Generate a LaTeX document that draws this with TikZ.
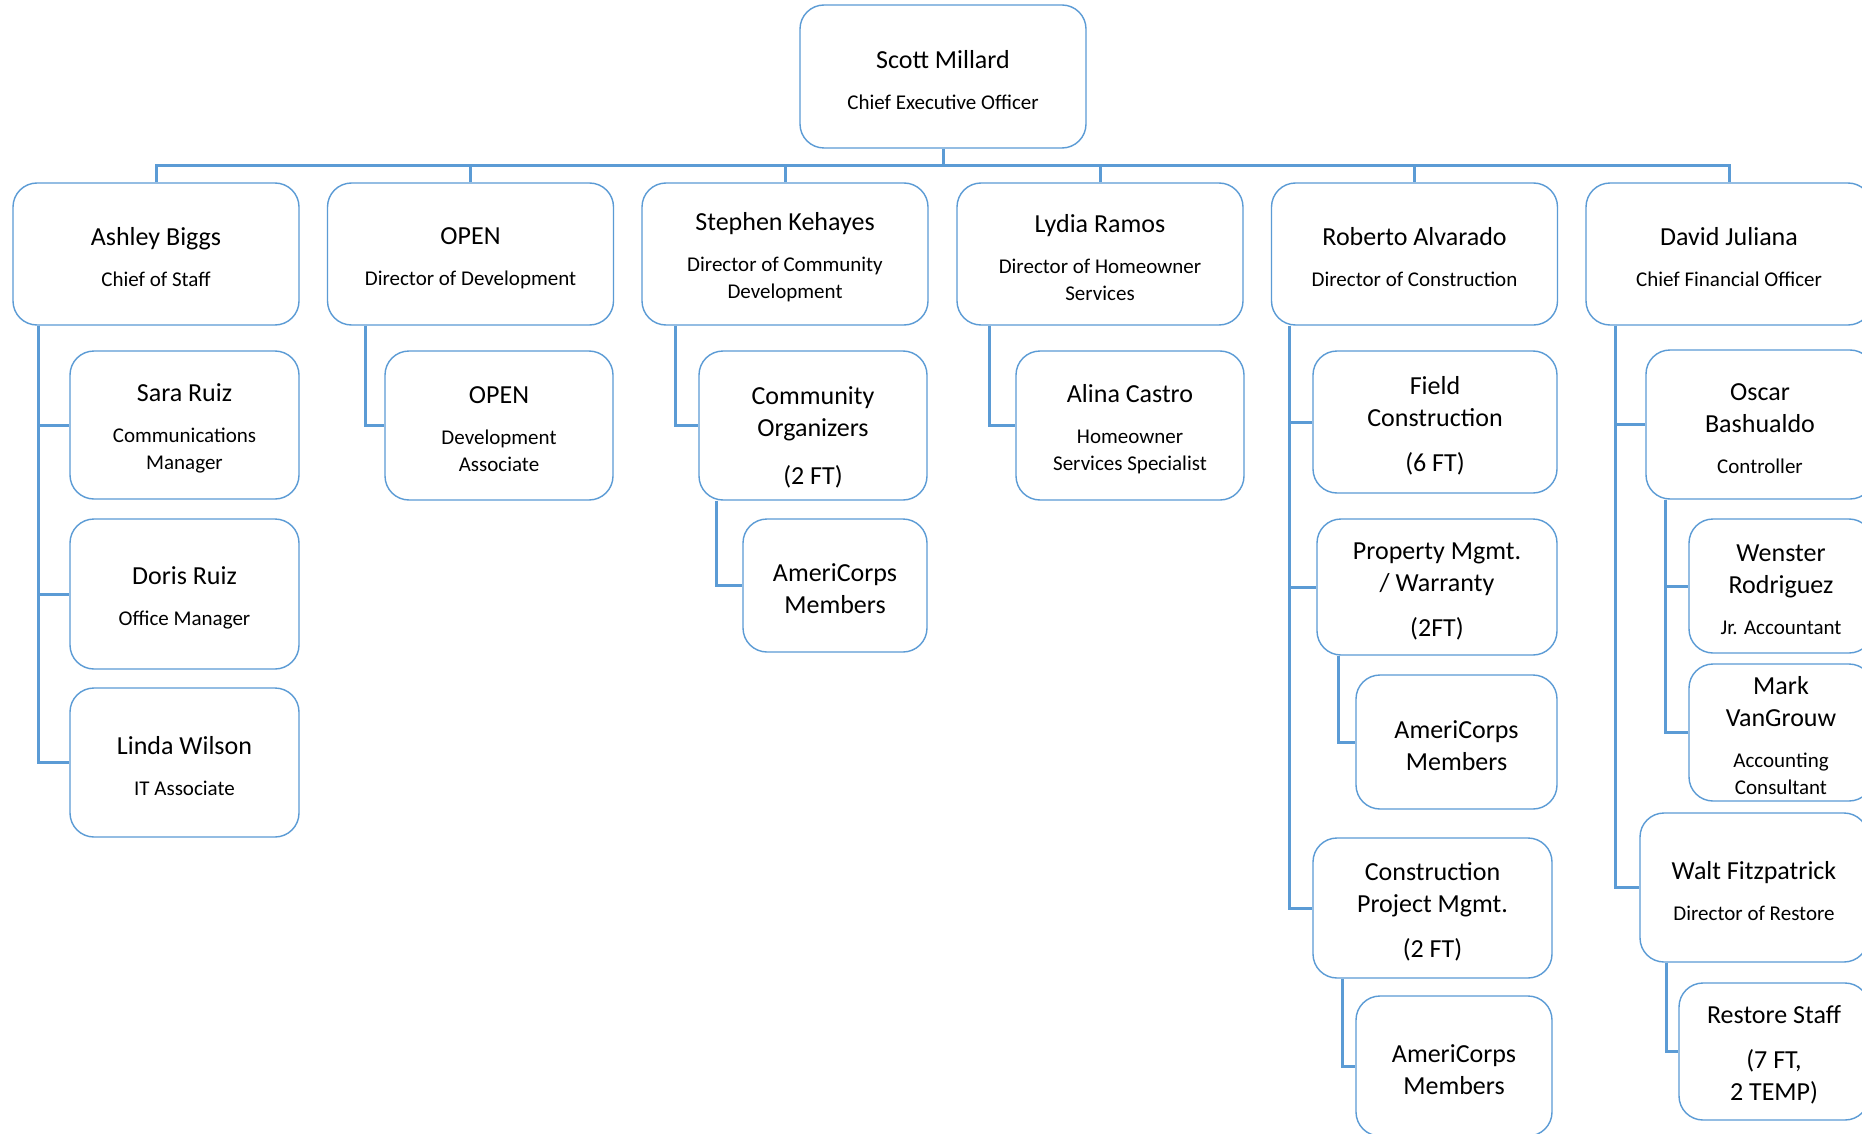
\documentclass[tikz,border=0pt]{standalone}
\usepackage{fontspec}
\setmainfont{Carlito}
\usepackage{tikz}
\usetikzlibrary{arrows.meta}
\definecolor{orgblue}{RGB}{91,155,213}
\newcommand{\nm}{\fontsize{26}{32}\selectfont}
\newcommand{\sbt}{\fontsize{21}{27}\selectfont}
\newcommand{\dr}[1][25pt]{\rule{0pt}{#1}}

\begin{document}
\begin{tikzpicture}[x=1pt,y=-1pt,
  box/.style={draw=orgblue, line width=1.4pt, rounded corners=24pt, fill=white,
    minimum width=286pt, minimum height=142pt, align=center, font=\sbt, inner sep=2pt},
  link/.style={draw=orgblue, line width=3pt}]

\clip (0,0) rectangle (1862,1134);
\fill[white] (0,0) rectangle (1862,1134);

% top level
\node[box, minimum height=143pt] (ceo) at (943,76.5) {{\nm\dr Scott Millard}\\[14pt]Chief Executive Officer};

\node[box] (ashley) at (156,254) {{\nm\dr Ashley Biggs}\\[14pt]Chief of Staff};
\node[box] (open) at (470.5,254) {{\nm\dr OPEN}\\[14pt]Director of Development};
\node[box] (stephen) at (785,254) {{\nm\dr Stephen Kehayes}\\[14pt]Director of Community\\Development};
\node[box] (lydia) at (1100,254) {{\nm\dr Lydia Ramos}\\[14pt]Director of Homeowner\\Services};
\node[box] (roberto) at (1414.5,254) {{\nm\dr Roberto Alvarado}\\[14pt]Director of Construction};
\node[box] (david) at (1729,254) {{\nm\dr David Juliana}\\[14pt]Chief Financial Officer};

% staff
\node[box, minimum width=229pt, minimum height=148pt] (sara) at (184.5,425) {{\nm\dr Sara Ruiz}\\[14pt]Communications\\Manager};
\node[box, minimum width=229pt, minimum height=150pt] (doris) at (184.5,594) {{\nm\dr Doris Ruiz}\\[14pt]Office Manager};
\node[box, minimum width=229pt, minimum height=149pt] (linda) at (184.5,762.5) {{\nm\dr Linda Wilson}\\[14pt]IT Associate};

\node[box, minimum width=228pt, minimum height=149pt] (devassoc) at (499,425.5) {{\nm\dr OPEN}\\[14pt]Development\\Associate};

\node[box, minimum width=228pt, minimum height=149pt] (commorg) at (813,425.5) {{\nm\dr[42pt]Community}\\[5pt]{\nm Organizers}\\[21pt]{\nm (2 FT)}};
\node[box, minimum width=184pt, minimum height=133pt] (ameria) at (835,585.5) {{\nm\dr AmeriCorps}\\[5pt]{\nm Members}};

\node[box, minimum width=228pt, minimum height=149pt] (alina) at (1130,425.5) {{\nm\dr Alina Castro}\\[14pt]Homeowner\\Services Specialist};

\node[box, minimum width=244pt, minimum height=142pt] (field) at (1435,422) {{\nm\dr Field}\\[5pt]{\nm Construction}\\[18pt]{\nm (6 FT)}};
\node[box, minimum width=240pt, minimum height=136pt] (property) at (1437,587) {{\nm\dr Property Mgmt.}\\[5pt]{\nm / Warranty}\\[18pt]{\nm (2FT)}};
\node[box, minimum width=201pt, minimum height=134pt] (amerib) at (1456.5,742) {{\nm\dr AmeriCorps}\\[5pt]{\nm Members}};
\node[box, minimum width=239pt, minimum height=140pt] (projmgmt) at (1432.5,908) {{\nm\dr Construction}\\[5pt]{\nm Project Mgmt.}\\[18pt]{\nm (2 FT)}};
\node[box, minimum width=196pt, minimum height=140pt] (americ) at (1454,1066) {{\nm\dr AmeriCorps}\\[5pt]{\nm Members}};

\node[box, minimum width=228pt, minimum height=149pt] (oscar) at (1760,424.5) {{\nm\dr Oscar}\\[5pt]{\nm Bashualdo}\\[14pt]Controller};
\node[box, minimum width=184pt, minimum height=134pt] (wenster) at (1781,586) {{\nm\dr Wenster}\\[5pt]{\nm Rodriguez}\\[14pt]Jr. Accountant};
\node[box, minimum width=184pt, minimum height=137pt] (mark) at (1781,732.5) {{\nm\dr Mark}\\[5pt]{\nm VanGrouw}\\[14pt]Accounting\\Consultant};
\node[box, minimum width=228pt, minimum height=149pt] (walt) at (1754,887.5) {{\nm\dr Walt Fitzpatrick}\\[14pt]Director of Restore};
\node[box, minimum width=190pt, minimum height=137pt] (restore) at (1774,1051.5) {{\nm\dr Restore Staff}\\[18pt]{\nm (7 FT,}\\[5pt]{\nm 2 TEMP)}};

% bus under the CEO
\draw[link] (ceo.south) -- ++(0,17) coordinate (bus);
\foreach \d in {ashley,open,stephen,lydia,roberto,david}
  \draw[link] (bus) -| (\d.north);

% branches
\foreach \c in {sara,doris,linda}
  \draw[link] ([xshift=26]ashley.south west) |- (\c.west);
\draw[link] ([xshift=39]open.south west) |- (devassoc.west);
\draw[link] ([xshift=34]stephen.south west) |- (commorg.west);
\draw[link] ([xshift=18]commorg.south west) |- (ameria.west);
\draw[link] ([xshift=33]lydia.south west) |- (alina.west);
\foreach \c in {field,property,projmgmt}
  \draw[link] ([xshift=19]roberto.south west) |- (\c.west);
\draw[link] ([xshift=22]property.south west) |- (amerib.west);
\draw[link] ([xshift=30]projmgmt.south west) |- (americ.west);
\foreach \c in {oscar,walt}
  \draw[link] ([xshift=30]david.south west) |- (\c.west);
\foreach \c in {wenster,mark}
  \draw[link] ([xshift=20]oscar.south west) |- (\c.west);
\draw[link] ([xshift=27]walt.south west) |- (restore.west);

\end{tikzpicture}
\end{document}
